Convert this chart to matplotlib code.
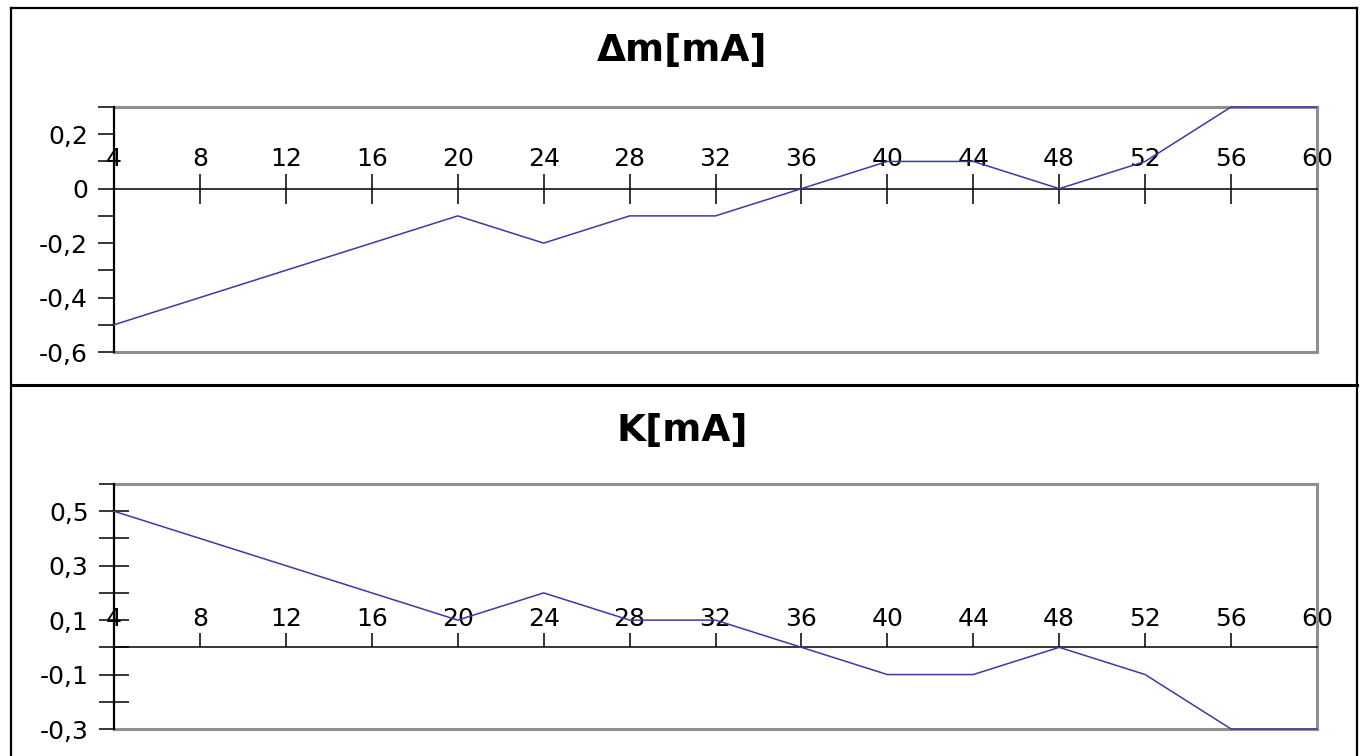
import matplotlib
matplotlib.use("Agg")
import matplotlib.pyplot as plt
from matplotlib.lines import Line2D

# ---- data ----
x_values = [4, 8, 12, 16, 20, 24, 28, 32, 36, 40, 44, 48, 52, 56, 60]
dm_values = [-0.5, -0.4, -0.3, -0.2, -0.1, -0.2, -0.1, -0.1, 0.0, 0.1, 0.1, 0.0, 0.1, 0.3, 0.3]
k_values = [0.5, 0.4, 0.3, 0.2, 0.1, 0.2, 0.1, 0.1, 0.0, -0.1, -0.1, 0.0, -0.1, -0.3, -0.3]

x_ticks = [4, 8, 12, 16, 20, 24, 28, 32, 36, 40, 44, 48, 52, 56, 60]
x_tick_labels = [str(v) for v in x_ticks]

dm_title = "Δm[mA]"
dm_major = [0.2, 0.0, -0.2, -0.4, -0.6]
dm_major_labels = ["0,2", "0", "-0,2", "-0,4", "-0,6"]
dm_minor = [0.3, 0.1, -0.1, -0.3, -0.5]

k_title = "K[mA]"
k_major = [0.5, 0.3, 0.1, -0.1, -0.3]
k_major_labels = ["0,5", "0,3", "0,1", "-0,1", "-0,3"]
k_minor = [0.6, 0.4, 0.2, 0.0, -0.2]

W, H = 1364, 756
fig = plt.figure(figsize=(W / 100, H / 100), dpi=100)
fig.patch.set_facecolor("white")

def fx(px):
    return px / W

def fy(py):
    return 1 - py / H

LINE_COLOR = "#3a3aa8"
GREY = "#8f8f8f"
TICK_FS = 18
TITLE_FS = 27

# outer panel borders
for (x0, y0, x1, y1, lw) in [
    (11, 8, 1357, 8, 1.6),
    (11, 8, 11, 756, 1.6),
    (1357, 8, 1357, 756, 1.6),
    (11, 385, 1357, 385, 2.2),
]:
    fig.add_artist(Line2D([fx(x0), fx(x1)], [fy(y0), fy(y1)], color="black",
                          lw=lw, transform=fig.transFigure))

def make_axes(rect_px, xs, ys, ylim, major, major_labels, minor, xdir, xlen, ydir, ylen, title, title_y):
    l, t, r, b = rect_px
    ax = fig.add_axes([fx(l), fy(b), fx(r) - fx(l), fy(t) - fy(b)])
    ax.set_xlim(4, 60)
    ax.set_ylim(*ylim)
    ax.plot(xs, ys, color=LINE_COLOR, lw=1.1, zorder=5, clip_on=False)
    # spines
    ax.spines["top"].set_position(("data", 0))
    ax.spines["top"].set_color("black")
    ax.spines["top"].set_linewidth(1.1)
    ax.spines["left"].set_color("black")
    ax.spines["left"].set_linewidth(1.6)
    ax.spines["left"].set_zorder(4)
    for s in ("right", "bottom"):
        ax.spines[s].set_color(GREY)
        ax.spines[s].set_linewidth(2.2)
    ax.axhline(ylim[1], color=GREY, lw=2.2, zorder=3, clip_on=False)
    # x ticks on the zero line, labels above
    ax.xaxis.tick_top()
    ax.set_xticks(x_ticks)
    ax.set_xticklabels(x_tick_labels)
    ax.tick_params(axis="x", direction=xdir, length=xlen, width=1.1, pad=1.8,
                   labelsize=TICK_FS, colors="black")
    # y ticks
    ax.set_yticks(major)
    ax.set_yticklabels(major_labels)
    ax.set_yticks(minor, minor=True)
    ax.tick_params(axis="y", which="both", direction=ydir, length=ylen, width=1.1,
                   pad=7.3, labelsize=TICK_FS, colors="black")
    for lab in ax.get_xticklabels() + ax.get_yticklabels():
        lab.set_fontfamily("DejaVu Sans")
    fig.text(0.5, fy(title_y), title, ha="center", va="center",
             fontsize=TITLE_FS, fontweight="bold", family="DejaVu Sans")
    return ax

make_axes((114, 107, 1317, 352), x_values, dm_values, (-0.6, 0.3), dm_major, dm_major_labels,
          dm_minor, "inout", 22, "out", 11.5, dm_title, 51)
make_axes((114, 484, 1317, 729), x_values, k_values, (-0.3, 0.6), k_major, k_major_labels,
          k_minor, "out", 10, "inout", 22, k_title, 431)

fig.savefig("out.png", dpi=100, facecolor="white")
